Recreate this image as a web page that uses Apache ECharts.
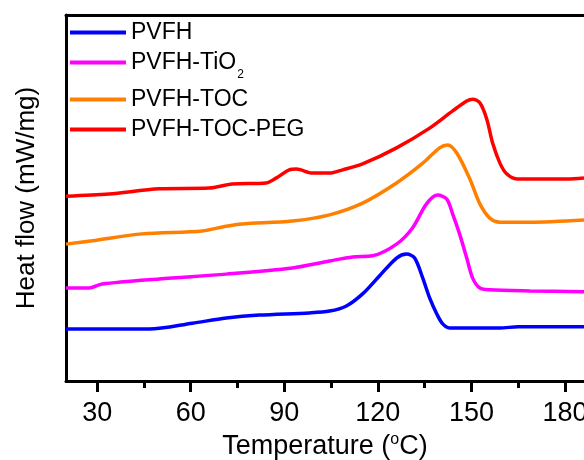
<!DOCTYPE html>
<html>
<head>
<meta charset="utf-8">
<script src="https://cdn.jsdelivr.net/npm/echarts@6/dist/echarts.min.js"></script>
<style>
  html, body { margin: 0; padding: 0; background: #fff; }
  #chart { width: 584px; height: 460px; }
</style>
</head>
<body>
<div id="chart"></div>
<script>
// DSC curves (temperature in °C, heat flow offset, arbitrary units)
const names = ['PVFH', 'PVFH-TiO2', 'PVFH-TOC', 'PVFH-TOC-PEG'];
const colors = ['#0000ff', '#ff00ff', '#ff8000', '#ff0000'];

const pvfhT = [20, 46.7, 60.5, 71.4, 82, 98, 104.5, 109.9, 115.1, 120.5, 126, 129.2, 131.8, 134.4, 136.6, 138.9, 140.8, 143, 159.1, 165, 186.1];
const pvfhQ = [1.42, 1.42, 1.58, 1.72, 1.80, 1.86, 1.91, 2.05, 2.38, 2.87, 3.36, 3.47, 3.36, 2.81, 2.27, 1.83, 1.56, 1.45, 1.45, 1.48, 1.48];

const tioT = [20, 27.4, 31.6, 49.9, 71.4, 92.6, 104.5, 111.9, 118.3, 126, 131.1, 135.6, 139.2, 142.1, 144, 146.2, 148.5, 150.4, 152.7, 155.9, 168.7, 186.1];
const tioQ = [2.54, 2.54, 2.65, 2.79, 2.92, 3.09, 3.28, 3.39, 3.42, 3.74, 4.18, 4.84, 5.08, 4.97, 4.56, 4.02, 3.36, 2.81, 2.54, 2.49, 2.46, 2.44];

const tocT = [20, 28.4, 44.4, 63.7, 71.4, 76.5, 92.6, 104.5, 115.1, 126, 134.4, 139.8, 142.4, 145.3, 149.5, 152.7, 155.9, 159.1, 168.7, 186.1];
const tocQ = [3.74, 3.83, 4.02, 4.10, 4.23, 4.29, 4.37, 4.54, 4.86, 5.41, 5.95, 6.37, 6.45, 6.23, 5.52, 4.84, 4.45, 4.34, 4.34, 4.40];

const pegT = [20, 33.8, 49.9, 65.9, 73.3, 84.2, 87.5, 91.6, 93.9, 99, 104.5, 108.7, 115.1, 126, 136.6, 144, 148.5, 150.4, 152.7, 154.9, 156.8, 159.1, 161.3, 164.6, 180.6, 186.1];
const pegQ = [5.05, 5.11, 5.25, 5.27, 5.38, 5.41, 5.55, 5.77, 5.79, 5.68, 5.68, 5.77, 5.93, 6.37, 6.91, 7.38, 7.65, 7.70, 7.60, 7.16, 6.50, 5.96, 5.66, 5.52, 5.52, 5.55];

const majorTicks = [30, 60, 90, 120, 150, 180];
const minorTicks = [45, 75, 105, 135, 165];

const curves = [[pvfhT, pvfhQ], [tioT, tioQ], [tocT, tocQ], [pegT, pegQ]];
const font = 'Liberation Sans, Arial, sans-serif';

function zip(t, q) {
  return t.map(function (v, i) { return [v, q[i]]; });
}

const chart = echarts.init(document.getElementById('chart'));
chart.setOption({
  backgroundColor: '#fff',
  animation: false,
  grid: { left: 66, right: 0, top: 15, bottom: 79, outerBoundsMode: 'none', containLabel: false },
  legend: {
    orient: 'vertical',
    left: 70,
    top: 21,
    padding: 0,
    icon: 'rect',
    itemWidth: 56,
    itemHeight: 4,
    itemGap: 7,
    data: names,
    formatter: function (n) {
      return n === 'PVFH-TiO2' ? 'PVFH-TiO{sub|2}' : n;
    },
    textStyle: {
      fontFamily: font,
      fontSize: 23,
      lineHeight: 23,
      color: '#000',
      rich: {
        sub: { fontFamily: font, fontSize: 12, lineHeight: 12, color: '#000', verticalAlign: 'top', padding: [18, 0, 0, 1] }
      }
    }
  },
  xAxis: [{
    type: 'value',
    min: 20,
    max: 186.1,
    position: 'bottom',
    name: 'Temperature ({sup|o}C)',
    nameLocation: 'middle',
    nameGap: 44,
    nameTextStyle: {
      fontFamily: font, fontSize: 27, lineHeight: 30, color: '#000',
      rich: { sup: { fontFamily: font, fontSize: 16, lineHeight: 16, color: '#000', verticalAlign: 'top' } }
    },
    axisLine: { show: true, lineStyle: { color: '#000', width: 3 } },
    axisTick: { show: true, inside: false, length: 11, customValues: majorTicks, lineStyle: { color: '#000', width: 3 } },
    axisLabel: { customValues: majorTicks, margin: 19, fontFamily: font, fontSize: 27, color: '#000' },
    splitLine: { show: false }
  }, {
    type: 'value',
    min: 20,
    max: 186.1,
    position: 'bottom',
    axisLine: { show: false },
    axisTick: { show: true, inside: false, length: 7, customValues: minorTicks, lineStyle: { color: '#000', width: 3 } },
    axisLabel: { show: false },
    splitLine: { show: false }
  }, {
    type: 'value',
    min: 20,
    max: 186.1,
    position: 'top',
    axisLine: { show: true, lineStyle: { color: '#000', width: 3 } },
    axisTick: { show: false },
    axisLabel: { show: false },
    splitLine: { show: false }
  }],
  yAxis: {
    type: 'value',
    min: 0,
    max: 10,
    name: 'Heat flow (mW/mg)',
    nameLocation: 'middle',
    nameGap: 26,
    nameTextStyle: { fontFamily: font, fontSize: 26, color: '#000' },
    axisLine: { show: true, lineStyle: { color: '#000', width: 3 } },
    axisTick: { show: false },
    axisLabel: { show: false },
    splitLine: { show: false }
  },
  series: curves.map(function (c, i) {
    return {
      name: names[i],
      type: 'line',
      xAxisIndex: 0,
      data: zip(c[0], c[1]),
      smooth: 0.3,
      symbol: 'none',
      lineStyle: { color: colors[i], width: 3.5 },
      itemStyle: { color: colors[i] }
    };
  })
});
</script>
</body>
</html>
